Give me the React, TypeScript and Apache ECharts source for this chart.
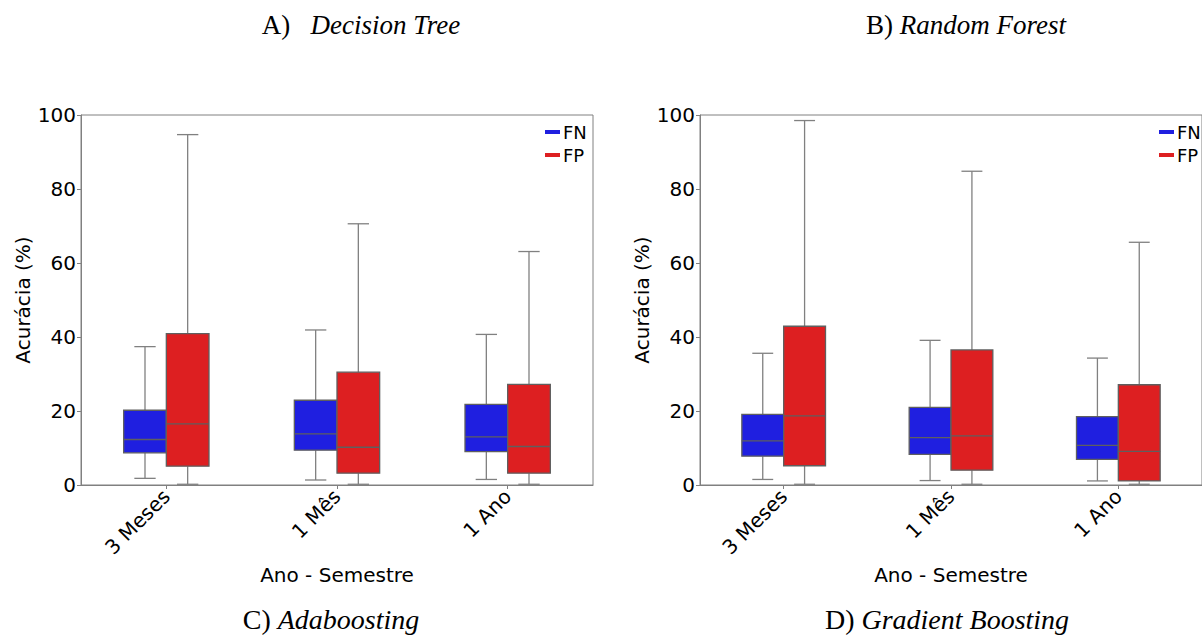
import React, { useEffect, useRef } from "react";
import * as echarts from "echarts";

const categories = ["3 Meses", "1 Mês", "1 Ano"];
// [min, q1, median, q3, max]
const leftFN = [
  [1.8, 8.7, 12.3, 20.2, 37.4],
  [1.35, 9.4, 13.8, 22.9, 41.9],
  [1.5, 9.0, 13.0, 21.8, 40.7],
];
const leftFP = [
  [0.2, 5.1, 16.5, 40.9, 94.7],
  [0.2, 3.2, 10.2, 30.5, 70.6],
  [0.2, 3.2, 10.4, 27.2, 63.1],
];
const rightFN = [
  [1.5, 7.8, 11.9, 19.1, 35.6],
  [1.2, 8.3, 12.8, 21.0, 39.1],
  [1.1, 6.9, 10.7, 18.5, 34.3],
];
const rightFP = [
  [0.2, 5.2, 18.7, 42.9, 98.5],
  [0.2, 4.0, 13.3, 36.5, 84.8],
  [0.2, 1.1, 9.1, 27.1, 65.6],
];
const yTicks = { min: 0, max: 100, interval: 20 };
const captionsTop = [
  { a: "A)   ", b: "Decision Tree" },
  { a: "B) ", b: "Random Forest" },
];
const captionsBottom = [
  { a: "C) ", b: "Adaboosting" },
  { a: "D) ", b: "Gradient Boosting" },
];

const BLUE = "#1f1fe0";
const RED = "#dd1f21";
const EDGE = "#5f5f5f";
const WHISK = "#808080";
const FONT = "DejaVu Sans";

function makeRender(side: number) {
  return (params: any, api: any) => {
    const cat = api.value(0);
    const mn = api.value(1), q1 = api.value(2), md = api.value(3), q3 = api.value(4), mx = api.value(5);
    const band = api.size([1, 0])[0];
    const boxW = band * 0.25;
    const c = api.coord([cat, 0])[0] + side * boxW / 2;
    const y = (v: number) => api.coord([cat, v])[1];
    const fill = api.visual("color");
    const capW = boxW * 0.5;
    const lw = 1.3;
    return {
      type: "group",
      children: [
        { type: "line", shape: { x1: c, y1: y(q3), x2: c, y2: y(mx) }, style: { stroke: WHISK, lineWidth: lw } },
        { type: "line", shape: { x1: c, y1: y(q1), x2: c, y2: y(mn) }, style: { stroke: WHISK, lineWidth: lw } },
        { type: "line", shape: { x1: c - capW / 2, y1: y(mx), x2: c + capW / 2, y2: y(mx) }, style: { stroke: WHISK, lineWidth: lw } },
        { type: "line", shape: { x1: c - capW / 2, y1: y(mn), x2: c + capW / 2, y2: y(mn) }, style: { stroke: WHISK, lineWidth: lw } },
        { type: "rect", shape: { x: c - boxW / 2, y: y(q3), width: boxW, height: y(q1) - y(q3) }, style: { fill, stroke: EDGE, lineWidth: lw } },
        { type: "line", shape: { x1: c - boxW / 2, y1: y(md), x2: c + boxW / 2, y2: y(md) }, style: { stroke: EDGE, lineWidth: lw } },
      ],
    };
  };
}

function toData(arr: number[][]) {
  return arr.map((d, i) => [i, ...d]);
}

export default function App() {
  const ref = useRef<HTMLDivElement>(null);
  useEffect(() => {
    const chart = echarts.init(ref.current!, null, { renderer: "svg" });
    const grids = [
      { left: 81, top: 115, width: 512, height: 370 },
      { left: 700, top: 115, width: 511, height: 370 },
    ];
    const mkX = (gi: number) => ({
      type: "category",
      gridIndex: gi,
      data: categories,
      boundaryGap: true,
      axisLine: { show: true, lineStyle: { color: "#808080", width: 1 } },
      axisTick: { show: true, alignWithLabel: true, length: 4, lineStyle: { color: "#808080" } },
      axisLabel: { rotate: 45, fontSize: 20, fontFamily: FONT, color: "#000", margin: 8 },
      name: "Ano - Semestre",
      nameLocation: "middle",
      nameGap: 80,
      nameTextStyle: { fontSize: 20, fontFamily: FONT, color: "#000" },
      splitLine: { show: false },
    });
    const mkY = (gi: number) => ({
      type: "value",
      gridIndex: gi,
      min: yTicks.min,
      max: yTicks.max,
      interval: yTicks.interval,
      axisLine: { show: true, lineStyle: { color: "#808080", width: 1 } },
      axisTick: { show: true, length: 4, lineStyle: { color: "#808080" } },
      axisLabel: { fontSize: 20, fontFamily: FONT, color: "#000", margin: 5 },
      name: "Acurácia (%)",
      nameLocation: "middle",
      nameGap: 48,
      nameTextStyle: { fontSize: 20, fontFamily: FONT, color: "#000" },
      splitLine: { show: false },
    });
    const mkSeries = (name: string, gi: number, arr: number[][], side: number, color: string) => ({
      type: "custom",
      name,
      xAxisIndex: gi,
      yAxisIndex: gi,
      itemStyle: { color },
      encode: { x: 0, y: [1, 2, 3, 4, 5] },
      data: toData(arr),
      renderItem: makeRender(side),
      clip: false,
    });
    const richOf = (size: number) => ({
      a: { fontFamily: "Liberation Serif", fontSize: size, color: "#000" },
      b: { fontFamily: "Liberation Serif", fontSize: size, fontStyle: "italic", color: "#000" },
    });
    const capText = (c: { a: string; b: string }, x: number, y: number, size: number) => ({
      type: "text",
      x,
      y,
      style: {
        text: `{a|${c.a}}{b|${c.b}}`,
        rich: richOf(size),
        align: "center",
        verticalAlign: "middle",
      },
    });
    const mkLegend = (left: number) => ({
      orient: "vertical",
      left,
      top: 118,
      icon: "rect",
      itemWidth: 15,
      itemHeight: 4,
      itemGap: 5,
      data: ["FN", "FP"],
      textStyle: { fontSize: 18, fontFamily: FONT, color: "#000", padding: [0, 0, 0, -2] },
    });
    chart.setOption({
      animation: false,
      backgroundColor: "#fff",
      grid: grids.map((g) => ({ ...g, show: true, borderColor: "#808080", borderWidth: 1, backgroundColor: "transparent" })),
      xAxis: [mkX(0), mkX(1)],
      yAxis: [mkY(0), mkY(1)],
      legend: [mkLegend(540), mkLegend(1154)],
      series: [
        mkSeries("FN", 0, leftFN, -1, BLUE),
        mkSeries("FP", 0, leftFP, 1, RED),
        mkSeries("FN", 1, rightFN, -1, BLUE),
        mkSeries("FP", 1, rightFP, 1, RED),
      ],
      graphic: [
        capText(captionsTop[0], 361, 25, 27),
        capText(captionsTop[1], 966, 25, 27),
        capText(captionsBottom[0], 331, 619, 28),
        capText(captionsBottom[1], 947, 619, 28),
      ],
    });
    return () => chart.dispose();
  }, []);
  return <div ref={ref} style={{ position: "fixed", left: 0, top: 0, width: 1202, height: 637 }} />;
}
